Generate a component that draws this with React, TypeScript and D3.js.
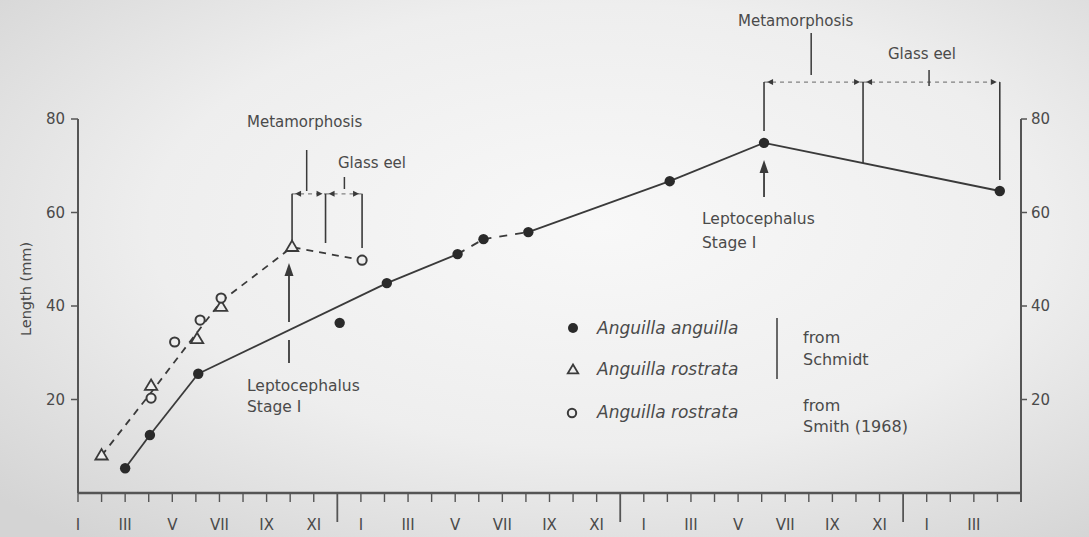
import React from "react";
import * as d3 from "d3";

// ---- data ----
const monthLabels = ["I", "II", "III", "IV", "V", "VI", "VII", "VIII", "IX", "X", "XI", "XII"];
const yTicks = [20, 40, 60, 80];

// Anguilla anguilla (Schmidt) – filled dots
const anguillaMonth = [2.0, 3.05, 5.1, 11.1, 13.1, 16.1, 17.2, 19.1, 25.1, 29.1, 39.1];
const anguillaLength = [5.3, 12.4, 25.5, 36.4, 44.9, 51.1, 54.3, 55.8, 66.7, 74.9, 64.6];
const anguillaOnLine = [true, true, true, false, true, true, true, true, true, true, true];
// style of each segment of the connecting line (between consecutive on-line points)
const anguillaSegDashed = [false, false, false, false, true, true, false, false, false];

// Anguilla rostrata (Schmidt) – open triangles
const rostrataMonth = [1.0, 3.1, 5.05, 6.07, 9.08];
const rostrataLength = [8.0, 22.9, 32.9, 39.8, 52.6];

// Anguilla rostrata (Smith 1968) – open circles
const smithMonth = [3.1, 4.1, 5.18, 6.07, 12.05];
const smithLength = [20.3, 32.3, 37.0, 41.7, 49.8];

// dashed growth line for A. rostrata
const rostrataTrendMonth = [1.0, 3.1, 5.0, 6.07, 9.08, 12.05];
const rostrataTrendLength = [8.0, 21.5, 34.0, 41.0, 52.6, 49.8];

// phase boundaries (months): start metamorphosis, start glass eel, end
const leftPhaseMonths = [9.08, 10.5, 12.05];
const rightPhaseMonths = [29.1, 33.3, 39.1];

const W = 1089;
const H = 537;
const INK = "#3a3a3a";
const TXT = "#4a4a4a";
const BG = "#eeeeee";
const FONT = "'DejaVu Sans', sans-serif";

const x = d3.scaleLinear().domain([0, 40]).range([78, 1021]);
const y = d3.scaleLinear().domain([0, 80]).range([493, 119]);

function head(tipX: number, tipY: number, dir: number, len = 6, half = 3) {
  // horizontal arrowhead; dir = -1 points left, +1 points right
  return `M${tipX},${tipY}L${tipX - dir * len},${tipY - half}L${tipX - dir * len},${tipY + half}Z`;
}
function upHead(tipX: number, tipY: number, len = 13, half = 4.5) {
  return `M${tipX},${tipY}L${tipX - half},${tipY + len}L${tipX + half},${tipY + len}Z`;
}
function tri(cx: number, cy: number, s = 6.5) {
  return `M${cx},${cy - s}L${cx + s * 0.95},${cy + s * 0.6}L${cx - s * 0.95},${cy + s * 0.6}Z`;
}

function Bracket({ months, yPix, bottoms }: { months: number[]; yPix: number; bottoms: number[] }) {
  const xs = months.map((m) => x(m));
  const els: React.ReactNode[] = [];
  xs.forEach((xx, i) => {
    els.push(<line key={"v" + i} x1={xx} x2={xx} y1={yPix} y2={bottoms[i]} stroke={INK} strokeWidth={1.6} />);
  });
  for (let i = 0; i < xs.length - 1; i++) {
    const a = xs[i];
    const b = xs[i + 1];
    els.push(
      <line key={"h" + i} x1={a} x2={b} y1={yPix} y2={yPix} stroke={INK} strokeWidth={1.2} strokeDasharray="4 4" opacity={0.6} />
    );
    els.push(<path key={"la" + i} d={head(a + 3, yPix, -1)} fill={INK} />);
    els.push(<path key={"ra" + i} d={head(b - 3, yPix, 1)} fill={INK} />);
  }
  return <g>{els}</g>;
}

export default function App() {
  const months = d3.range(0, 40);
  const lineGen = d3.line<[number, number]>().x((d) => x(d[0])).y((d) => y(d[1]));

  const onLine: [number, number][] = anguillaMonth
    .map((m, i) => [m, anguillaLength[i]] as [number, number])
    .filter((_, i) => anguillaOnLine[i]);
  const segs = onLine.slice(0, -1).map((p, i) => ({ d: lineGen([p, onLine[i + 1]]) as string, dashed: anguillaSegDashed[i] }));

  const trend: [number, number][] = rostrataTrendMonth.map((m, i) => [m, rostrataTrendLength[i]]);

  // crossing point of the left Leptocephalus arrow with the anguilla line
  const lepLeftX = x(8.95);

  return (
    <svg width={W} height={H} style={{ position: "absolute", left: 0, top: 0 }} fontFamily={FONT}>
      <defs>
        <radialGradient id="bg" cx="0.55" cy="0.42" r="0.75">
          <stop offset="0" stopColor="#f8f8f8" />
          <stop offset="0.55" stopColor="#eeeeee" />
          <stop offset="1" stopColor="#d4d4d4" />
        </radialGradient>
      </defs>
      <rect x={0} y={0} width={W} height={H} fill="url(#bg)" />

      {/* y axes */}
      <line x1={x(0)} x2={x(0)} y1={y(80)} y2={y(0)} stroke="#555" strokeWidth={2} />
      <line x1={x(40)} x2={x(40)} y1={y(80)} y2={y(0) + 9} stroke="#555" strokeWidth={2} />
      {yTicks.map((t) => (
        <g key={"yt" + t}>
          <line x1={x(0) - 7} x2={x(0)} y1={y(t)} y2={y(t)} stroke="#555" strokeWidth={1.5} />
          <text x={x(0) - 13} y={y(t) + 5} textAnchor="end" fontSize={15} fill={TXT}>
            {t}
          </text>
          <line x1={x(40)} x2={x(40) + 6} y1={y(t)} y2={y(t)} stroke="#555" strokeWidth={1.5} />
          <text x={x(40) + 10} y={y(t) + 5} textAnchor="start" fontSize={15} fill={TXT}>
            {t}
          </text>
        </g>
      ))}
      <text transform={`translate(31,${289}) rotate(-90)`} textAnchor="middle" fontSize={14.5} fill={TXT}>
        Length (mm)
      </text>

      {/* x axis */}
      <line x1={x(0)} x2={x(40)} y1={y(0)} y2={y(0)} stroke="#555" strokeWidth={2.5} />
      {months.map((m) => {
        const sep = m % 12 === 11;
        return <line key={"xt" + m} x1={x(m)} x2={x(m)} y1={y(0)} y2={y(0) + (sep ? 29 : 9)} stroke="#555" strokeWidth={sep ? 1.8 : 1.4} />;
      })}
      {months
        .filter((m) => m % 2 === 0)
        .map((m) => (
          <text key={"xl" + m} x={x(m)} y={530} textAnchor="middle" fontSize={15} fill={TXT}>
            {monthLabels[m % 12]}
          </text>
        ))}

      {/* A. rostrata dashed growth line */}
      <path d={lineGen(trend) as string} fill="none" stroke={INK} strokeWidth={1.8} strokeDasharray="7 6" />

      {/* A. anguilla line */}
      {segs.map((s, i) => (
        <path key={"seg" + i} d={s.d} fill="none" stroke={INK} strokeWidth={1.8} strokeDasharray={s.dashed ? "8 8" : undefined} />
      ))}

      {/* markers */}
      {anguillaMonth.map((m, i) => (
        <circle key={"aa" + i} cx={x(m)} cy={y(anguillaLength[i])} r={5.2} fill="#2a2a2a" />
      ))}
      {rostrataMonth.map((m, i) => (
        <path key={"ar" + i} d={tri(x(m), y(rostrataLength[i]))} fill={BG} stroke={INK} strokeWidth={1.8} />
      ))}
      {smithMonth.map((m, i) => (
        <circle key={"sm" + i} cx={x(m)} cy={y(smithLength[i])} r={4.6} fill={BG} stroke={INK} strokeWidth={2} />
      ))}

      {/* left annotations */}
      <text x={247} y={127} fontSize={15} fill={TXT}>Metamorphosis</text>
      <line x1={x(9.7)} x2={x(9.7)} y1={150} y2={191} stroke={INK} strokeWidth={1.5} />
      <text x={338} y={168} fontSize={15} fill={TXT}>Glass eel</text>
      <line x1={x(11.3)} x2={x(11.3)} y1={177} y2={189} stroke={INK} strokeWidth={1.5} />
      <Bracket months={leftPhaseMonths} yPix={y(64)} bottoms={[241, 243, 248]} />
      <line x1={lepLeftX} x2={lepLeftX} y1={272} y2={322} stroke={INK} strokeWidth={1.8} />
      <line x1={lepLeftX} x2={lepLeftX} y1={340} y2={363} stroke={INK} strokeWidth={1.8} />
      <path d={upHead(lepLeftX, 263)} fill={INK} />
      <text x={247} y={391} fontSize={15.5} fill={TXT}>Leptocephalus</text>
      <text x={247} y={412} fontSize={15.5} fill={TXT}>Stage I</text>

      {/* right annotations */}
      <text x={738} y={26} fontSize={15} fill={TXT}>Metamorphosis</text>
      <line x1={x(31.1)} x2={x(31.1)} y1={33} y2={75} stroke={INK} strokeWidth={1.5} />
      <text x={888} y={59} fontSize={15} fill={TXT}>Glass eel</text>
      <line x1={x(36.1)} x2={x(36.1)} y1={70} y2={86} stroke={INK} strokeWidth={1.5} />
      <Bracket months={rightPhaseMonths} yPix={y(87.9)} bottoms={[131, 163, 180]} />
      <line x1={x(29.1)} x2={x(29.1)} y1={170} y2={197} stroke={INK} strokeWidth={1.8} />
      <path d={upHead(x(29.1), 160)} fill={INK} />
      <text x={702} y={224} fontSize={15.5} fill={TXT}>Leptocephalus</text>
      <text x={702} y={248} fontSize={15.5} fill={TXT}>Stage I</text>

      {/* legend */}
      <circle cx={573} cy={328} r={5} fill="#2a2a2a" />
      <path d={tri(573, 370, 5.5)} fill={BG} stroke={INK} strokeWidth={1.8} />
      <circle cx={572} cy={413} r={4.2} fill={BG} stroke={INK} strokeWidth={2} />
      <text x={597} y={334} fontSize={17} fontStyle="italic" fill={TXT}>Anguilla anguilla</text>
      <text x={597} y={375} fontSize={17} fontStyle="italic" fill={TXT}>Anguilla rostrata</text>
      <text x={597} y={418} fontSize={17} fontStyle="italic" fill={TXT}>Anguilla rostrata</text>
      <line x1={777} x2={777} y1={318} y2={379} stroke={INK} strokeWidth={1.5} />
      <text x={803} y={343} fontSize={16} fill={TXT}>from</text>
      <text x={803} y={365} fontSize={16} fill={TXT}>Schmidt</text>
      <text x={803} y={411} fontSize={16} fill={TXT}>from</text>
      <text x={803} y={432} fontSize={16} fill={TXT}>Smith (1968)</text>
    </svg>
  );
}
